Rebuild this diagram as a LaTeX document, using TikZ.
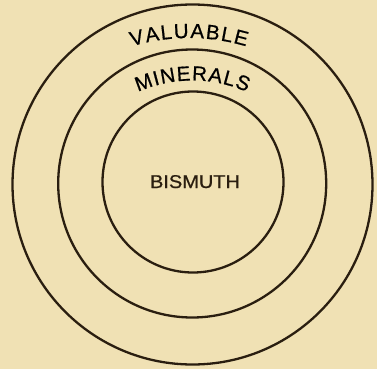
\documentclass[tikz,border=0pt]{standalone}
\usepackage{fontspec}
\setmainfont{Liberation Sans}
\newfontfamily\heavy{Liberation Sans}[FakeBold=0.7]
\usetikzlibrary{decorations.text}
\definecolor{paper}{RGB}{240,225,180}
\definecolor{ink}{RGB}{42,30,16}
\tikzset{
  ring/.style={draw=ink, line width=2.3pt, circle, inner sep=0pt, outer sep=0pt},
  arctext/.style={color=ink, decorate, decoration={text along path, text align=fit to path, text={|\heavy\fontsize{20.5}{20.5}\selectfont|#1}}},
  label/.style={text=ink, font=\heavy\fontsize{18.5}{18.5}\selectfont, inner sep=0pt, anchor=base}
}
\begin{document}
\begin{tikzpicture}[x=1pt,y=1pt]
\fill[paper] (0,0) rectangle (377,-369);
\useasboundingbox (0,0) rectangle (377,-369);
\node[ring, minimum size=360pt] (outer) at (192.5,-184.5) {};
\node[ring, minimum size=268pt] (middle) at (192.2,-183.5) {};
\node[ring, minimum size=181pt] (inner) at (193,-182) {};
\node[label] (bismuth) at (195,-188) {\scalebox{1.08}[1]{BISMUTH}};
\path (189,-238) ++(106.6:200) coordinate (vstart);
\path (192.5,-215.5) ++(113.8:135) coordinate (mstart);
\path[arctext=VALUABLE] (vstart) arc[start angle=106.6, end angle=73.4, radius=200];
\path[arctext=MINERALS] (mstart) arc[start angle=113.8, end angle=66.2, radius=135];
\end{tikzpicture}
\end{document}
